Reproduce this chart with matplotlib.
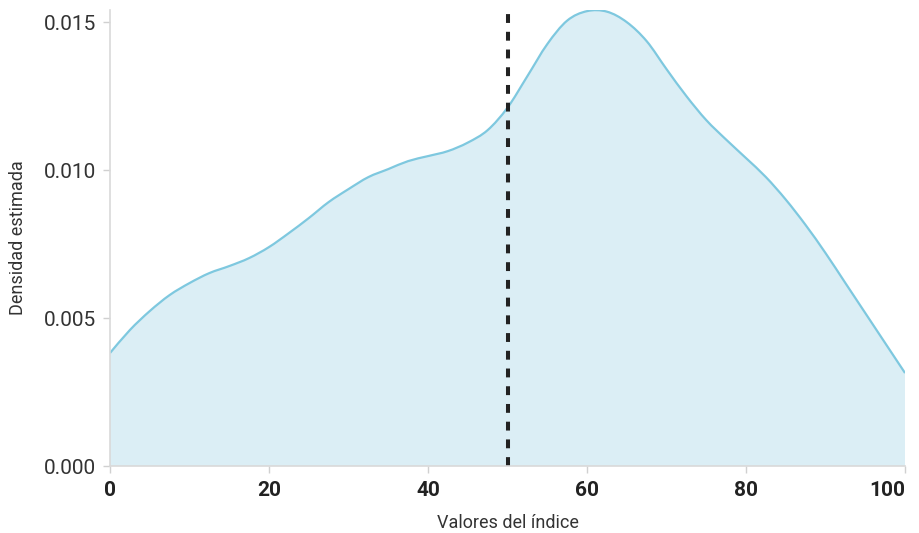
import matplotlib
matplotlib.use("Agg")
import matplotlib.pyplot as plt
from matplotlib.path import Path
from matplotlib.patches import PathPatch
from matplotlib.transforms import ScaledTranslation

plt.rcParams["font.family"] = ["Roboto", "DejaVu Sans"]

# Estimated density of the index values (x on a 0-100 grid, step 2.5)
index_values = [0, 2.5, 5, 7.5, 10, 12.5, 15, 17.5, 20, 22.5, 25, 27.5, 30, 32.5,
                35, 37.5, 40, 42.5, 45, 47.5, 50, 52.5, 55, 57.5, 60, 62.5, 65,
                67.5, 70, 72.5, 75, 77.5, 80, 82.5, 85, 87.5, 90, 92.5, 95, 97.5, 100]
density = [0.003818, 0.004595, 0.005236, 0.005777, 0.006182, 0.006520, 0.006757,
           0.007027, 0.007399, 0.007872, 0.008378, 0.008919, 0.009358, 0.009764,
           0.010034, 0.010304, 0.010473, 0.010642, 0.010929, 0.011351, 0.012111,
           0.013176, 0.014257, 0.015051, 0.015372, 0.015355, 0.015000, 0.014358,
           0.013412, 0.012500, 0.011689, 0.011030, 0.010405, 0.009764, 0.009003,
           0.008142, 0.007196, 0.006182, 0.005169, 0.004155, 0.003142]

threshold = 50
x_ticks = [0, 20, 40, 60, 80, 100]
y_ticks = [0.000, 0.005, 0.010, 0.015]
y_tick_labels = ["0.000", "0.005", "0.010", "0.015"]


def smooth_path(xs, ys):
    """Catmull-Rom curve through the points, expressed as cubic Bezier segments."""
    pts = list(zip(xs, ys))
    verts = [pts[0]]
    codes = [Path.MOVETO]
    n = len(pts)
    for i in range(n - 1):
        p0 = pts[i - 1] if i > 0 else pts[i]
        p1 = pts[i]
        p2 = pts[i + 1]
        p3 = pts[i + 2] if i + 2 < n else pts[i + 1]
        c1 = (p1[0] + (p2[0] - p0[0]) / 6, p1[1] + (p2[1] - p0[1]) / 6)
        c2 = (p2[0] - (p3[0] - p1[0]) / 6, p2[1] - (p3[1] - p1[1]) / 6)
        verts += [c1, c2, p2]
        codes += [Path.CURVE4] * 3
    return verts, codes


fig = plt.figure(figsize=(9.19, 5.33), dpi=100)
ax = fig.add_axes([0.1197, 0.1257, 0.8651, 0.8555])

verts, codes = smooth_path(index_values, density)

# filled area under the curve
fill_verts = verts + [(index_values[-1], 0), (index_values[0], 0), verts[0]]
fill_codes = codes + [Path.LINETO, Path.LINETO, Path.CLOSEPOLY]
ax.add_patch(PathPatch(Path(fill_verts, fill_codes), facecolor="#dbeef5",
                       edgecolor="none", linewidth=0))
# density curve
ax.add_patch(PathPatch(Path(verts, codes), facecolor="none",
                       edgecolor="#7ec8df", linewidth=1.6))

ax.axvline(threshold, color="#222222", linewidth=2.9, dashes=(2.2, 2.2))

ax.set_xlim(0, 100)
ax.set_ylim(0, 0.01541)

ax.set_xticks(x_ticks)
ax.set_xticklabels([str(t) for t in x_ticks], fontweight="bold", fontsize=15,
                   color="#222222")
ax.set_yticks(y_ticks)
ax.set_yticklabels(y_tick_labels, fontsize=15, color="#333333")

# keep the end labels inside the figure
last = ax.get_xticklabels()[-1]
last.set_horizontalalignment("right")
last.set_transform(last.get_transform() + ScaledTranslation(12 / 100, 0, fig.dpi_scale_trans))
first = ax.get_xticklabels()[0]
first.set_transform(first.get_transform() + ScaledTranslation(3 / 100, 0, fig.dpi_scale_trans))

for side in ("top", "right"):
    ax.spines[side].set_visible(False)
for side in ("left", "bottom"):
    ax.spines[side].set_color("#d9d9d9")
    ax.spines[side].set_linewidth(1.2)

ax.tick_params(axis="both", length=5, width=1, color="#d0d0d0")
ax.tick_params(axis="x", pad=6)
ax.tick_params(axis="y", pad=5)

ax.set_xlabel("Valores del índice", fontsize=13, color="#333333", labelpad=10)
ax.set_ylabel("Densidad estimada", fontsize=13, color="#333333", labelpad=12)

fig.savefig("out.png", dpi=100)
